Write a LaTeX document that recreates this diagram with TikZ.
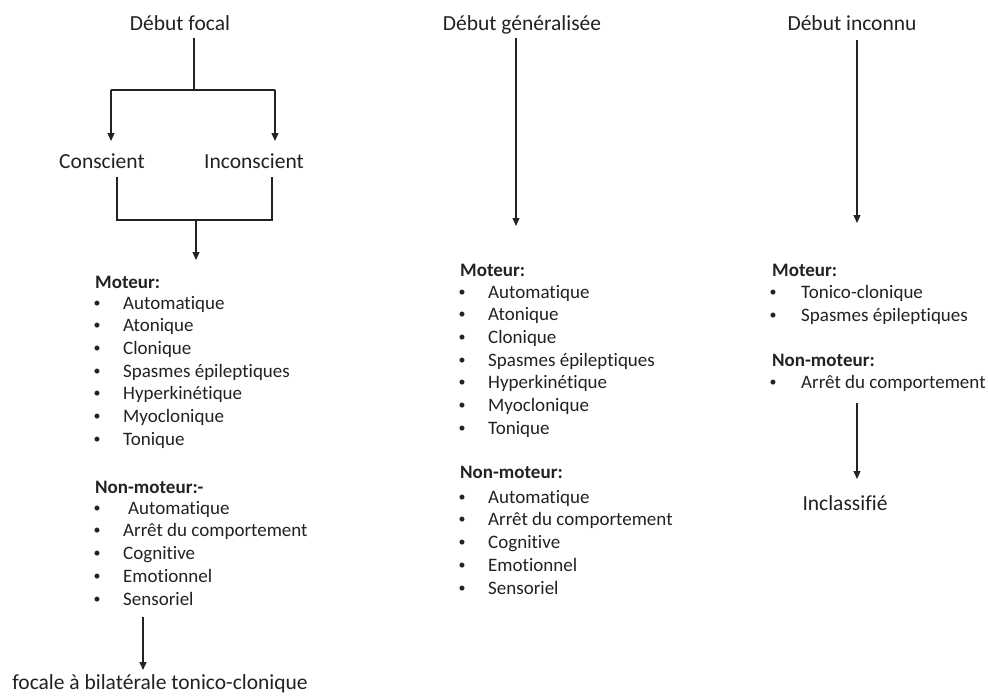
\documentclass[tikz,border=0pt]{standalone}
\usepackage{fontspec}
\setmainfont{Carlito}[Ligatures={NoCommon}]
\usetikzlibrary{arrows.meta}
\definecolor{ink}{HTML}{222222}
\tikzset{
  lbl/.style={inner sep=0pt, anchor=base, text=ink, font=\fontsize{21.5}{24}\selectfont},
  itm/.style={inner sep=0pt, anchor=base west, text=ink, font=\fontsize{19}{22}\selectfont},
  hd/.style={itm, font=\bfseries\fontsize{19}{22}\selectfont},
  dot/.style={inner sep=0pt, anchor=base, text=ink, font=\fontsize{14}{16}\selectfont},
  wire/.style={draw=ink, line width=1.2pt},
  arr/.style={wire, -{Triangle[length=8pt,width=7pt]}}
}
\begin{document}
\begin{tikzpicture}[x=1pt, y=-1pt]
\path[use as bounding box, fill=white] (0,0) rectangle (988,699);

% ---------- focal onset ----------
\node[lbl] (focal) at (180,30) {Début focal};
\node[lbl] (consc) at (102,168) {Conscient};
\node[lbl] (inconsc) at (254,168) {Inconscient};
\coordinate (fTop) at (194,38);
\coordinate (fJoin) at (194,90);
\coordinate (fL) at (111,90);
\coordinate (fR) at (275,90);
\coordinate (cTop) at (111,141);
\coordinate (iTop) at (275,141);
\draw[wire] (fTop) -- (fJoin);
\draw[wire] (fL) -- (fR);
\draw[arr] (fL) -- (cTop);
\draw[arr] (fR) -- (iTop);

\coordinate (cBot) at (117,177);
\coordinate (iBot) at (272,177);
\coordinate (cMid) at (196,220);
\coordinate (fList) at (196,260);
\draw[wire] (cBot) -- (cBot |- cMid) -- (iBot |- cMid) -- (iBot);
\draw[arr] (cMid) -- (fList);

\node[hd] (fmH) at (95,288) {Moteur:};
\foreach \t [count=\i] in {Automatique, Atonique, Clonique, Spasmes épileptiques, Hyperkinétique, Myoclonique, Tonique}{
  \node[dot] (fmb\i) at (97,{307+22.67*(\i-1)}) {•};
  \node[itm] (fm\i) at (123,{309+22.67*(\i-1)}) {\t};
}
\node[hd] (fnH) at (95,493) {Non-moteur:-};
\node[dot] (fnb1) at (97,512) {•};
\node[itm] (fn1) at (128,514) {Automatique};
\foreach \t [count=\i from 2] in {Arrêt du comportement, Cognitive, Emotionnel, Sensoriel}{
  \node[dot] (fnb\i) at (97,{512+22.75*(\i-1)}) {•};
  \node[itm] (fn\i) at (123,{514+22.75*(\i-1)}) {\t};
}
\coordinate (fBotA) at (143,617);
\coordinate (fBotB) at (143,670);
\draw[arr] (fBotA) -- (fBotB);
\node[lbl] (fbtc) at (160,689) {focale à bilatérale tonico-clonique};

% ---------- generalised onset ----------
\node[lbl] (gen) at (522,30) {Début généralisée};
\coordinate (gTop) at (516,38);
\coordinate (gBot) at (516,226);
\draw[arr] (gTop) -- (gBot);

\node[hd] (gmH) at (460,276) {Moteur:};
\foreach \t [count=\i] in {Automatique, Atonique, Clonique, Spasmes épileptiques, Hyperkinétique, Myoclonique, Tonique}{
  \node[dot] (gmb\i) at (462,{296+22.67*(\i-1)}) {•};
  \node[itm] (gm\i) at (488,{298+22.67*(\i-1)}) {\t};
}
\node[hd] (gnH) at (460,478) {Non-moteur:};
\foreach \t [count=\i] in {Automatique, Arrêt du comportement, Cognitive, Emotionnel, Sensoriel}{
  \node[dot] (gnb\i) at (462,{501+22.75*(\i-1)}) {•};
  \node[itm] (gn\i) at (488,{503+22.75*(\i-1)}) {\t};
}

% ---------- unknown onset ----------
\node[lbl] (unk) at (852,30) {Début inconnu};
\coordinate (uTop) at (857,40);
\coordinate (uBot) at (857,223);
\draw[arr] (uTop) -- (uBot);

\node[hd] (umH) at (772,276) {Moteur:};
\node[dot] (umb1) at (773,296) {•};
\node[itm] (um1) at (801,298) {Tonico-clonique};
\node[dot] (umb2) at (773,319) {•};
\node[itm] (um2) at (801,321) {Spasmes épileptiques};
\node[hd] (unH) at (772,366) {Non-moteur:};
\node[dot] (unb1) at (773,386) {•};
\node[itm] (un1) at (801,388) {Arrêt du comportement};
\coordinate (uLA) at (857,403);
\coordinate (uLB) at (857,479);
\draw[arr] (uLA) -- (uLB);
\node[lbl] (uncl) at (845,510) {Inclassifié};
\end{tikzpicture}
\end{document}
